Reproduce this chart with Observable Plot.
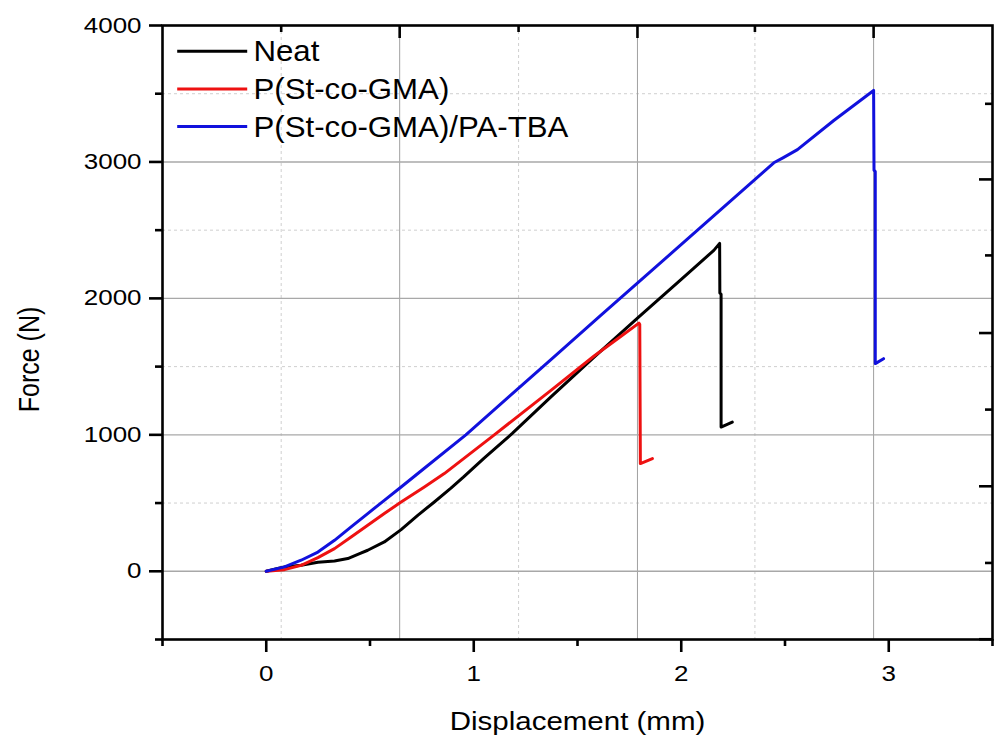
<!DOCTYPE html>
<html>
<head>
<meta charset="utf-8">
<script src="https://cdn.jsdelivr.net/npm/d3@7"></script>
<script src="https://cdn.jsdelivr.net/npm/@observablehq/plot@0.6"></script>
<style>
  body { margin: 0; background: #fff; }
  #chart { width: 994px; height: 738px; }
</style>
</head>
<body>
<div id="chart"></div>
<script>
// ---- data ----
const seriesNames = ["Neat", "P(St-co-GMA)", "P(St-co-GMA)/PA-TBA"];
const seriesColors = ["#000000", "#ee1111", "#1111dd"];

const neatDisp  = [0, 0.05, 0.088, 0.168, 0.249, 0.329, 0.393, 0.45, 0.489, 0.569, 0.65, 0.73, 0.81, 0.89, 0.95, 1.05, 1.187, 1.372, 1.58, 1.789, 2.0, 2.157, 2.185, 2.186, 2.192, 2.192, 2.246];
const neatForce = [0, 18, 32, 44, 66, 75, 93, 130, 154, 215, 305, 410, 508, 610, 690, 830, 1012, 1278, 1570, 1855, 2140, 2352, 2403, 2040, 2030, 1057, 1094];

const gmaDisp  = [0, 0.088, 0.168, 0.249, 0.329, 0.409, 0.489, 0.569, 0.65, 0.762, 0.858, 1.099, 1.372, 1.58, 1.7, 1.796, 1.8, 1.803, 1.861];
const gmaForce = [0, 12, 44, 100, 166, 251, 337, 423, 508, 618, 716, 1000, 1326, 1578, 1712, 1819, 1810, 789, 826];

const tbaDisp  = [0, 0.088, 0.168, 0.249, 0.329, 0.409, 0.489, 0.569, 0.65, 0.762, 0.962, 1.372, 1.612, 1.965, 2.446, 2.49, 2.56, 2.735, 2.927, 2.929, 2.935, 2.935, 2.975];
const tbaForce = [0, 32, 81, 141, 227, 325, 423, 520, 618, 755, 1000, 1551, 1875, 2348, 2994, 3030, 3090, 3304, 3524, 2940, 2930, 1522, 1558];

const xTicks = [0, 1, 2, 3];
const xMinorTicks = [-0.5, 0.5, 1.5, 2.5, 3.5];
const yTicks = [0, 1000, 2000, 3000, 4000];
const yMinorTicks = [-500, 500, 1500, 2500, 3500];
const gridXMajor = [0.643, 1.789, 2.927];
const gridXMinor = [0.072, 1.216, 2.355];
const gridYMajor = [0, 1000, 2000, 3000];
const gridYMinor = [500, 1500, 2500, 3500];
const rightLongTicks = [2872, 1746, 623, -498];
const rightShortTicks = [3426, 2315, 1185, 61];

const xLabel = "Displacement (mm)";
const yLabel = "Force (N)";

// ---- build ----
const toRows = (d, f, name) => d.map((x, i) => ({x, y: f[i], name}));
const curves = [
  toRows(neatDisp, neatForce, seriesNames[0]),
  toRows(gmaDisp, gmaForce, seriesNames[1]),
  toRows(tbaDisp, tbaForce, seriesNames[2])
];

const W = 994, H = 738, mL = 162, mR = 2, mT = 25, mB = 99;
const PW = W - mL - mR, PH = H - mT - mB;
const AX = 2.6; // axis stroke width

const hline = { draw(ctx) { ctx.moveTo(-35, 0); ctx.lineTo(35, 0); } };

const legendMarks = seriesNames.flatMap((name, i) => [
  Plot.dot([name], {frameAnchor: "top-left", dx: 49.7, dy: 25.7 + i * 37.7, symbol: hline, stroke: seriesColors[i], strokeWidth: 3, fill: "none"}),
  Plot.text([name], {frameAnchor: "top-left", dx: 91, dy: 26.3 + i * 37.7, text: d => d, textAnchor: "start", lineAnchor: "middle", fontSize: 30, fill: "#000"})
]);

const svg = Plot.plot({
  width: W, height: H,
  marginLeft: mL, marginRight: mR, marginTop: mT, marginBottom: mB,
  style: {fontFamily: "'Liberation Sans', Arial, sans-serif", fontSize: "22px", color: "#000", background: "#fff"},
  x: {domain: [-0.5, 3.5], ticks: xTicks, tickSize: 0, tickPadding: 26, tickFormat: d => String(d), label: null},
  y: {domain: [-500, 4000], ticks: yTicks, tickSize: 0, tickPadding: 21, tickFormat: d => String(d), label: null},
  marks: [
    // grid
    Plot.ruleX(gridXMinor, {stroke: "#cfcfcf", strokeWidth: 1, strokeDasharray: "3,3"}),
    Plot.ruleY(gridYMinor, {stroke: "#cfcfcf", strokeWidth: 1, strokeDasharray: "3,3"}),
    Plot.ruleX(gridXMajor, {stroke: "#a0a0a0", strokeWidth: 1}),
    Plot.ruleY(gridYMajor, {stroke: "#a8a8a8", strokeWidth: 1.4}),
    // curves
    ...curves.map((rows, i) => Plot.line(rows, {x: "x", y: "y", stroke: seriesColors[i], strokeWidth: 3, strokeLinejoin: "round", strokeLinecap: "round"})),
    // frame
    Plot.frame({stroke: "#000", strokeWidth: AX}),
    // bottom ticks (outward)
    Plot.ruleX(xTicks, {insetTop: PH, insetBottom: -13, stroke: "#000", strokeWidth: AX}),
    Plot.ruleX(xMinorTicks, {insetTop: PH, insetBottom: -7, stroke: "#000", strokeWidth: AX}),
    // left ticks (outward)
    Plot.ruleY(yTicks, {insetLeft: -13, insetRight: PW, stroke: "#000", strokeWidth: AX}),
    Plot.ruleY(yMinorTicks, {insetLeft: -7, insetRight: PW, stroke: "#000", strokeWidth: AX}),
    // top ticks (inward)
    Plot.ruleX(gridXMajor, {insetBottom: PH - 13, stroke: "#000", strokeWidth: AX}),
    Plot.ruleX(gridXMinor, {insetBottom: PH - 7, stroke: "#000", strokeWidth: AX}),
    // right ticks (inward)
    Plot.ruleY(rightLongTicks, {insetLeft: PW - 13, stroke: "#000", strokeWidth: AX}),
    Plot.ruleY(rightShortTicks, {insetLeft: PW - 7, stroke: "#000", strokeWidth: AX}),
    // axis titles
    Plot.text([xLabel], {frameAnchor: "bottom", dy: 82.3, text: d => d, textAnchor: "middle", lineAnchor: "middle", fontSize: 25, fill: "#000"}),
    Plot.text([yLabel], {frameAnchor: "left", dx: -133, dy: 27, rotate: -90, text: d => d, textAnchor: "middle", lineAnchor: "middle", fontSize: 25, fill: "#000"}),
    // legend
    ...legendMarks
  ]
});

document.getElementById("chart").appendChild(svg);

// the reference's lettering is horizontally wider than plain Arial
const SX = 1.18, SX_LEGEND = 1.04;
svg.querySelectorAll("text").forEach(t => {
  const s = seriesNames.includes(t.textContent) ? SX_LEGEND : SX;
  const tr = t.getAttribute("transform") || "";
  const ax = parseFloat(t.getAttribute("x")) || 0;
  const ay = parseFloat(t.getAttribute("y")) || 0;
  if (/rotate/.test(tr)) {
    t.setAttribute("transform", `${tr} translate(0,${ay}) scale(1,${s}) translate(0,${-ay})`);
  } else {
    t.setAttribute("transform", `${tr} translate(${ax},0) scale(${s},1) translate(${-ax},0)`);
  }
});
</script>
</body>
</html>
